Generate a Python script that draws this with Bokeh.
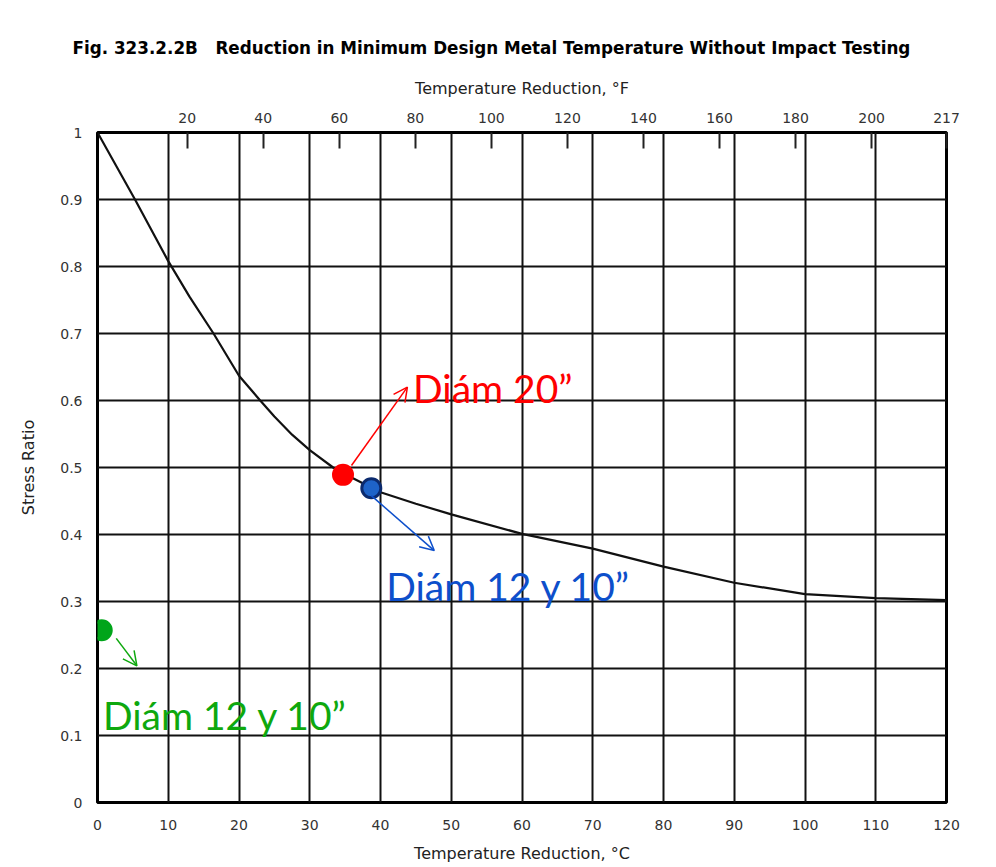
from bokeh.plotting import figure
from bokeh.models import LinearAxis, Range1d, FixedTicker, Arrow, OpenHead
from bokeh.core.properties import value
from bokeh.embed import file_html
from bokeh.resources import INLINE

# ---- data ----
title_text = "Fig. 323.2.2B\u00a0\u00a0\u00a0Reduction in Minimum Design Metal Temperature Without Impact Testing"

temp_c = [0, 5.3, 10, 13, 16.4, 20, 23, 25, 27.5, 30, 33.3, 35, 40, 45, 50, 60, 70, 80, 90, 100, 110, 120]
stress_ratio = [1.0, 0.90, 0.808, 0.755, 0.70, 0.637, 0.600, 0.576, 0.549, 0.526, 0.500, 0.490,
                0.463, 0.446, 0.430, 0.401, 0.379, 0.352, 0.328, 0.311, 0.305, 0.302]

c_ticks = [0, 10, 20, 30, 40, 50, 60, 70, 80, 90, 100, 110, 120]
y_ticks = [0, 0.1, 0.2, 0.3, 0.4, 0.5, 0.6, 0.7, 0.8, 0.9, 1.0]
y_tick_labels = ["0", "0.1", "0.2", "0.3", "0.4", "0.5", "0.6", "0.7", "0.8", "0.9", "1"]
f_ticks = [20, 40, 60, 80, 100, 120, 140, 160, 180, 200]
f_last_label = "217"
f_range = (-3.6, 219.7)   # °F scale of the top axis as printed on the chart

pt_x = [34.7, 38.7, 0.6]
pt_y = [0.489, 0.469, 0.257]
pt_fill = ["#FF0000", "#1E63C8", "#00A51A"]
pt_line = ["#FF0000", "#0B2A6E", "#00A51A"]

arr_x0 = [35.9, 38.7, 2.65]
arr_y0 = [0.503, 0.458, 0.245]
arr_x1 = [43.8, 47.6, 5.57]
arr_y1 = [0.620, 0.376, 0.204]

lab_x = [44.6, 40.8, 0.76]
lab_y = [0.619, 0.323, 0.130]
lab_text = ["Diám 20”", "Diám 12 y 10”", "Diám 12 y 10”"]
lab_color = ["#FF0000", "#0D4FCB", "#0EA80E"]

# ---- figure ----
p = figure(x_range=(0, 120), y_range=(0, 1), frame_width=849, frame_height=670,
           output_backend="svg", toolbar_location=None,
           min_border_left=97, min_border_right=30, min_border_top=132, min_border_bottom=50)
p.background_fill_color = "white"
p.border_fill_color = "white"
p.outline_line_color = "black"
p.outline_line_width = 3

AX_FONT = "DejaVu Sans"
tick_color = "#333333"

# bottom axis (°C)
xa = p.xaxis[0]
xa.ticker = FixedTicker(ticks=c_ticks)
xa.axis_label = "Temperature Reduction, °C"
xa.axis_line_color = None
xa.major_tick_line_color = None
xa.minor_tick_line_color = None
xa.major_label_standoff = 11
xa.axis_label_standoff = 11
xa.major_label_text_font = AX_FONT
xa.major_label_text_font_size = "14px"
xa.major_label_text_color = tick_color
xa.axis_label_text_font = AX_FONT
xa.axis_label_text_font_size = "16px"
xa.axis_label_text_font_style = "normal"
xa.axis_label_text_color = "#222222"

# left axis
ya = p.yaxis[0]
ya.ticker = FixedTicker(ticks=y_ticks)
ya.major_label_overrides = dict(zip(y_ticks, y_tick_labels))
ya.axis_label = "Stress Ratio"
ya.axis_line_color = None
ya.major_tick_line_color = None
ya.minor_tick_line_color = None
ya.major_label_standoff = 9
ya.axis_label_standoff = 19
ya.major_label_text_font = AX_FONT
ya.major_label_text_font_size = "14px"
ya.major_label_text_color = tick_color
ya.axis_label_text_font = AX_FONT
ya.axis_label_text_font_size = "16px"
ya.axis_label_text_font_style = "normal"
ya.axis_label_text_color = "#222222"

# top axis (°F)
p.extra_x_ranges = {"F": Range1d(start=f_range[0], end=f_range[1])}
top_ticks = f_ticks + [f_range[1]]
ta = LinearAxis(x_range_name="F", ticker=FixedTicker(ticks=top_ticks),
                axis_label="Temperature Reduction, °F")
ta.major_label_overrides = {f_range[1]: f_last_label}
ta.axis_line_color = None
ta.major_tick_in = 16
ta.major_tick_out = 0
ta.major_tick_line_color = "#222222"
ta.major_tick_line_width = 2
ta.minor_tick_line_color = None
ta.major_label_standoff = 10
ta.axis_label_standoff = 12
ta.major_label_text_font = AX_FONT
ta.major_label_text_font_size = "14px"
ta.major_label_text_color = tick_color
ta.axis_label_text_font = AX_FONT
ta.axis_label_text_font_size = "16px"
ta.axis_label_text_font_style = "normal"
ta.axis_label_text_color = "#222222"
p.add_layout(ta, "above")

# grid
p.xgrid.ticker = FixedTicker(ticks=c_ticks)
p.ygrid.ticker = FixedTicker(ticks=y_ticks)
for g in (p.xgrid[0], p.ygrid[0]):
    g.grid_line_color = "#111111"
    g.grid_line_width = 2
    g.grid_line_alpha = 1.0

# title
p.title.text = title_text
p.title.text_font = AX_FONT
p.title.text_font_size = "16.8px"
p.title.text_font_style = "bold"
p.title.text_color = "black"
p.title.align = "left"
p.title.offset = -25
p.title.standoff = 36

# curve
p.line(temp_c, stress_ratio, line_color="#111111", line_width=2.2)

# arrows
for i in range(len(arr_x0)):
    p.add_layout(Arrow(end=OpenHead(size=14, line_color=lab_color[i], line_width=1.5),
                       x_start=arr_x0[i], y_start=arr_y0[i], x_end=arr_x1[i], y_end=arr_y1[i],
                       line_color=lab_color[i], line_width=1.5))

# points
p.scatter(pt_x, pt_y, size=19, fill_color=pt_fill, line_color=pt_line, line_width=3)

# labels
p.text(x=lab_x, y=lab_y, text=lab_text, text_color=lab_color, text_font=value("Lato"),
       text_font_size="39px", text_baseline="alphabetic", text_align="left")

open("out.html", "w").write(file_html(p, INLINE))
